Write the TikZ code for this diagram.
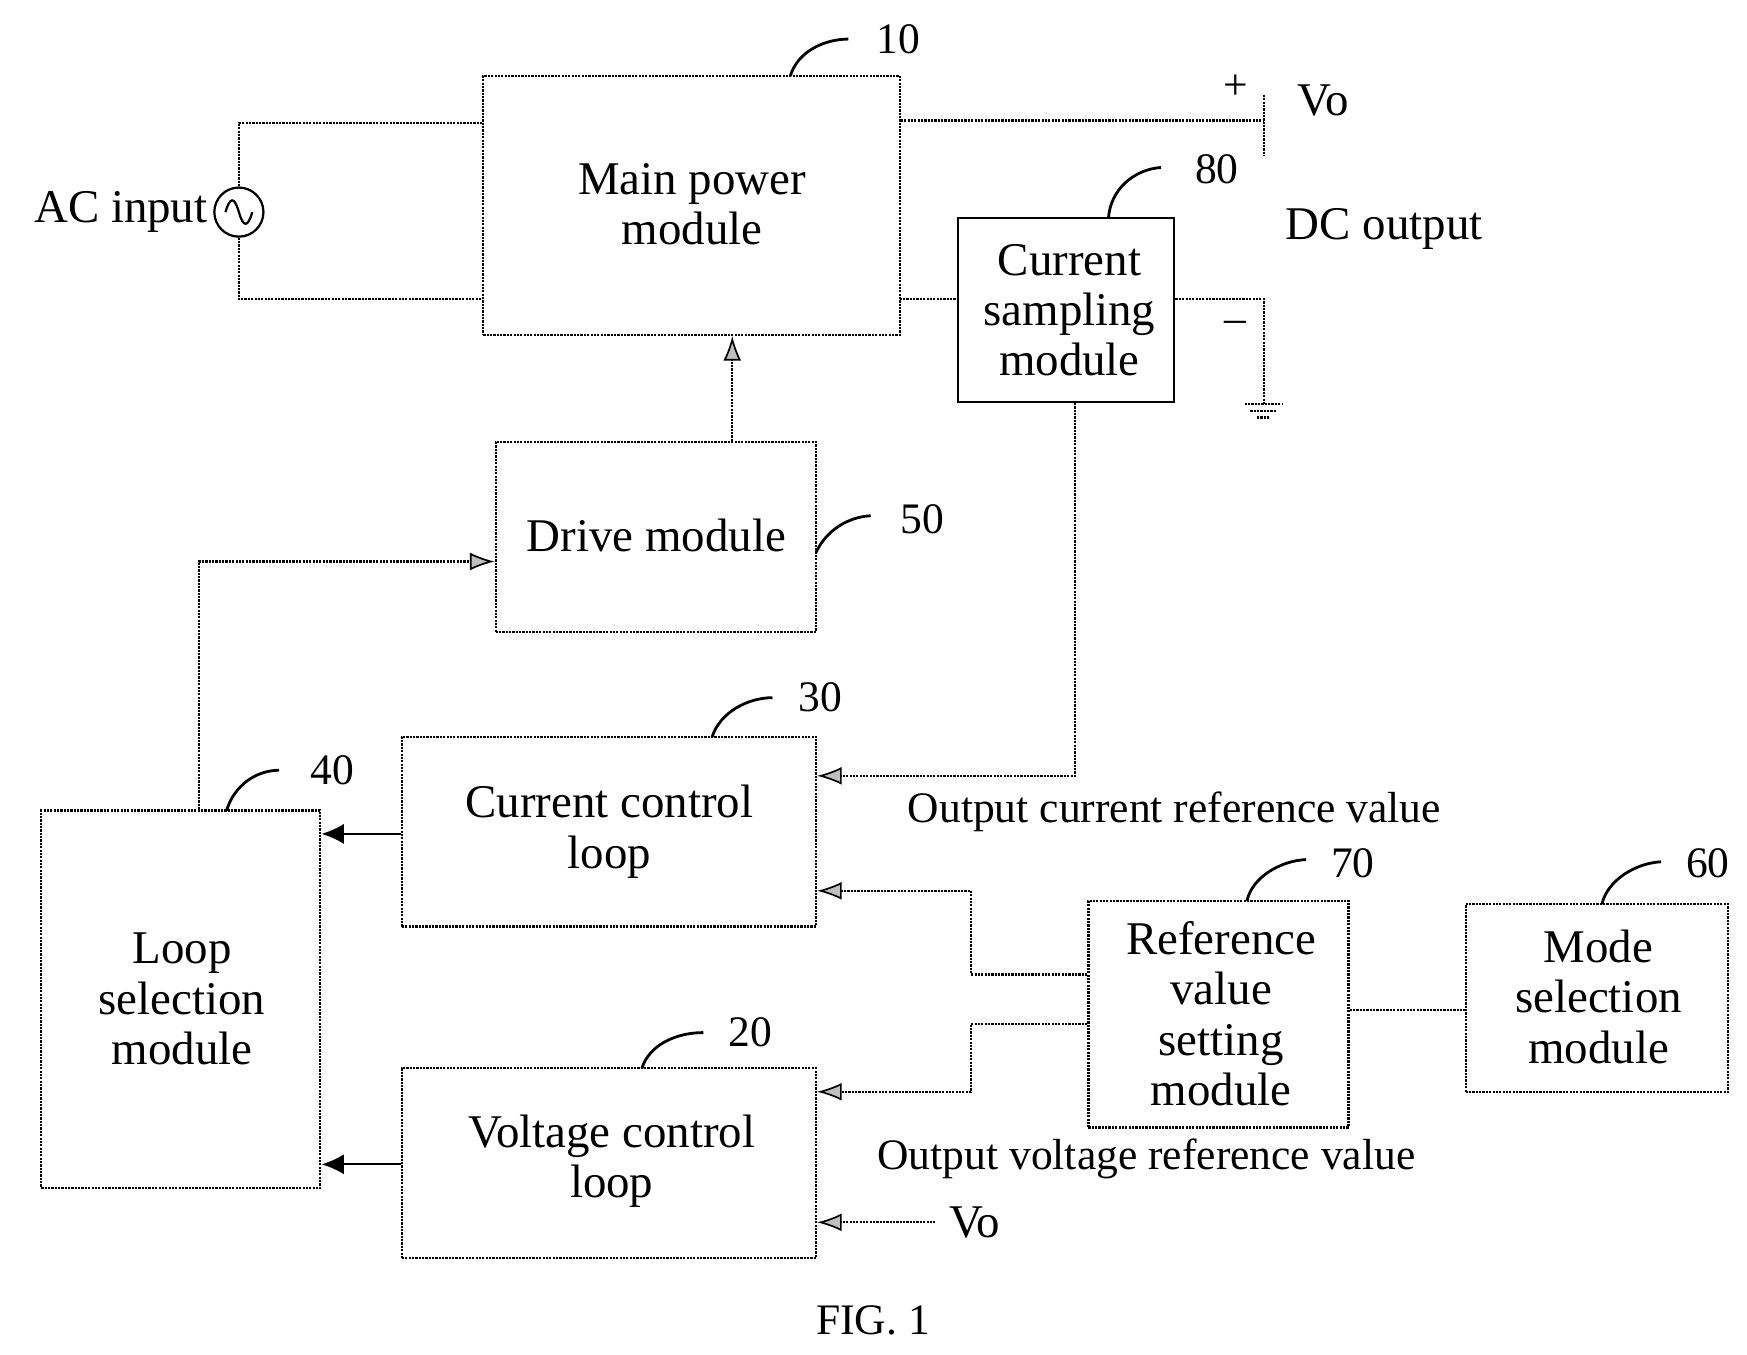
\documentclass[tikz,border=0pt]{standalone}
\usepackage{fontspec}
\setmainfont{Liberation Serif}
\usetikzlibrary{arrows.meta}
\begin{document}
\begin{tikzpicture}[x=1pt,y=-1pt,
  box/.style={draw,densely dotted,line width=2pt,inner sep=0pt},
  sbox/.style={draw,line width=2pt,inner sep=0pt},
  wire/.style={densely dotted,line width=2pt},
  arr/.style={wire,-{Latex[length=22pt,width=16pt,fill=gray!50,line width=1.5pt,sep=0pt]}},
  sarr/.style={line width=2pt,-{Latex[length=20pt,width=18pt]}},
  txt/.style={font=\fontsize{42}{45}\selectfont,align=center,inner sep=0pt},
  lab/.style={font=\fontsize{39}{42}\selectfont,inner sep=0pt},
  lead/.style={line width=2.5pt}]
\useasboundingbox (0,0) rectangle (1565,1213);
% boxes
\node[box,minimum width=373pt,minimum height=232pt] (main) at (619.5,184) {};
\node[txt] (maint) at (620,183) {Main power\\module};
\node[sbox,minimum width=194pt,minimum height=165pt] (cs) at (955,277.5) {};
\node[txt] (cst) at (958,278) {Current\\sampling\\module};
\node[box,minimum width=287pt,minimum height=170pt] (drv) at (587.5,481) {};
\node[txt] (drvt) at (588,480) {Drive module};
\node[box,minimum width=250pt,minimum height=338pt] (ls) at (162,895) {};
\node[txt] (lst) at (163,895) {Loop\\selection\\module};
\node[box,minimum width=371pt,minimum height=170pt] (ccl) at (545.5,745) {};
\node[txt] (cclt) at (546,745) {Current control\\loop};
\node[box,minimum width=371pt,minimum height=170pt] (vcl) at (545.5,1042) {};
\node[txt] (vclt) at (548,1040) {Voltage control\\loop};
\node[box,minimum width=233pt,minimum height=203pt] (ref) at (1091.5,908.5) {};
\node[txt] (reft) at (1094,908) {Reference\\value\\setting\\module};
\node[box,minimum width=235pt,minimum height=168pt] (mode) at (1430.5,894) {};
\node[txt] (modet) at (1432,893) {Mode\\selection\\module};
% AC source
\node[draw,circle,line width=2pt,minimum size=44pt,inner sep=0pt] (ac) at (214,190) {};
\draw[line width=2pt] ([xshift=-12pt]ac.center) .. controls +(4,-14) and +(-4,-14) .. (ac.center) .. controls +(4,14) and +(-4,14) .. ([xshift=12pt]ac.center);
\node[txt,anchor=east] (actxt) at (186,190) {AC input};
\coordinate (a1) at (214,110); \coordinate (a2) at (214,268);
\draw[wire] (ac.north) -- (a1) -- (main.west |- a1);
\draw[wire] (ac.south) -- (a2) -- (main.west |- a2);
% output
\coordinate (plate) at (1132,108);
\draw[wire] (main.east |- plate) -- (plate);
\draw[wire] (1132,85) -- (1132,140);
\node[lab] (plus) at (1107,78) {+};
\node[txt] (vo1) at (1185,90) {Vo};
\node[txt] (dco) at (1240,205) {DC output};
\coordinate (m1) at (806,268);
\draw[wire] (m1) -- (cs.west |- m1);
\coordinate (g1) at (1132,268); \coordinate (g2) at (1132,362);
\draw[wire] (cs.east |- g1) -- (g1) -- (g2);
\draw[wire] (1115,362) -- (1149,362) (1120,368) -- (1144,368) (1126,374) -- (1138,374);
\node[lab] (minus) at (1107,293) {--};
% connectors
\draw[arr] (drv.north -| 656,0) -- (main.south -| 656,0);
\coordinate (l1) at (178,503);
\draw[arr] (ls.north -| l1) -- (l1) -- (drv.west |- l1);
\coordinate (c1) at (963,695);
\draw[arr] (cs.south -| c1) -- (c1) -- (ccl.east |- c1);
\draw[sarr] (ccl.west |- 0,747) -- (ls.east |- 0,747);
\draw[sarr] (vcl.west |- 0,1043) -- (ls.east |- 0,1043);
\coordinate (r1) at (870,873); \coordinate (r2) at (870,798);
\draw[arr] (ref.west |- r1) -- (r1) -- (r2) -- (ccl.east |- r2);
\coordinate (r3) at (870,917); \coordinate (r4) at (870,978);
\draw[arr] (ref.west |- r3) -- (r3) -- (r4) -- (vcl.east |- r4);
\draw[wire] (ref.east |- 0,905) -- (mode.west |- 0,905);
\node[txt,anchor=west] (vo2) at (850,1095) {Vo};
\coordinate (v0) at (838,1095);
\draw[arr] (v0) -- (vcl.east |- v0);
\node[lab] (ocr) at (1052,727) {Output current reference value};
\node[lab] (ovr) at (1027,1038) {Output voltage reference value};
% reference numbers
\node[lab] (n10) at (805,35) {10};
\draw[lead] (708,68) .. controls (715,45) and (740,35) .. (760,35);
\node[lab] (n80) at (1090,152) {80};
\draw[lead] (993,195) .. controls (995,170) and (1015,152) .. (1040,150);
\node[lab] (n50) at (826,465) {50};
\draw[lead] (731,495) .. controls (740,475) and (760,463) .. (780,462);
\node[lab] (n40) at (298,690) {40};
\draw[lead] (203,726) .. controls (210,703) and (230,690) .. (250,690);
\node[lab] (n30) at (735,625) {30};
\draw[lead] (638,660) .. controls (645,638) and (670,625) .. (692,625);
\node[lab] (n20) at (672,925) {20};
\draw[lead] (575,957) .. controls (582,935) and (607,925) .. (630,925);
\node[lab] (n70) at (1212,773) {70};
\draw[lead] (1117,807) .. controls (1122,785) and (1148,771) .. (1170,770);
\node[lab] (n60) at (1530,773) {60};
\draw[lead] (1435,810) .. controls (1440,788) and (1466,773) .. (1488,772);
\node[lab] (fig) at (782,1183) {FIG. 1};
\end{tikzpicture}
\end{document}
